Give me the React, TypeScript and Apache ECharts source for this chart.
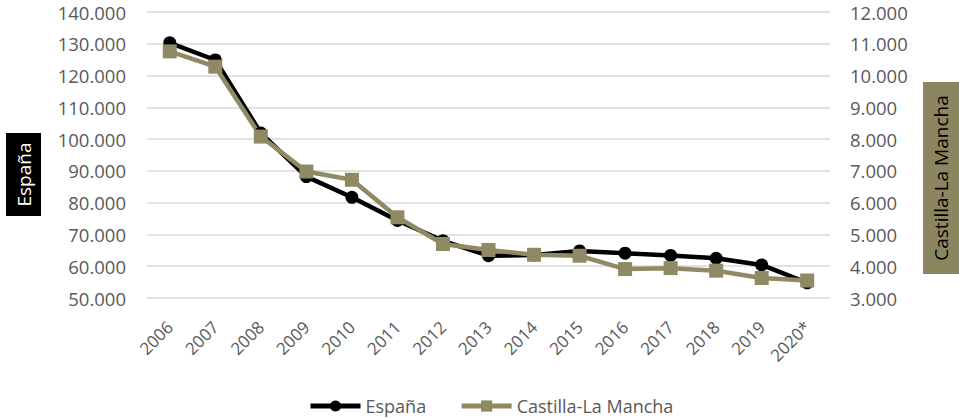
import React, { useEffect, useRef } from "react";
import * as echarts from "echarts";

const years = ["2006", "2007", "2008", "2009", "2010", "2011", "2012", "2013", "2014", "2015", "2016", "2017", "2018", "2019", "2020*"];
const espana = [130300, 124900, 101900, 88200, 81700, 74400, 68000, 63300, 63500, 64800, 64100, 63400, 62500, 60400, 54800];
const castilla = [10760, 10280, 8080, 6980, 6720, 5540, 4700, 4510, 4360, 4330, 3910, 3940, 3860, 3630, 3550];
const leftTicks = { min: 50000, max: 140000, interval: 10000 };
const rightTicks = { min: 3000, max: 12000, interval: 1000 };

const FONT = "'Open Sans', sans-serif";
const GREY = "#595959";
const OLIVE = "#8f8a63";
const OLIVE_BOX = "#8b865f";

const fmt = (v: number) => String(Math.round(v)).replace(/\B(?=(\d{3})+(?!\d))/g, ".");

export default function App() {
  const ref = useRef<HTMLDivElement>(null);
  useEffect(() => {
    document.body.style.margin = "0";
    if (!ref.current) return;
    const chart = echarts.init(ref.current, undefined, { renderer: "svg" });
    chart.setOption({
      animation: false,
      backgroundColor: "#ffffff",
      grid: { left: 147, right: 129, top: 12, bottom: 121, containLabel: false },
      legend: {
        left: 303,
        top: 392,
        itemWidth: 50,
        itemHeight: 14,
        itemGap: 33,
        lineStyle: { width: 5 },
        textStyle: { fontFamily: FONT, fontSize: 18, color: GREY },
        data: ["España", "Castilla-La Mancha"],
      },
      xAxis: {
        type: "category",
        data: years,
        boundaryGap: true,
        axisLine: { show: false },
        axisTick: { show: false },
        axisLabel: { rotate: 45, fontFamily: FONT, fontSize: 17, color: GREY, margin: 26, interval: 0 },
      },
      yAxis: [
        {
          type: "value",
          min: leftTicks.min,
          max: leftTicks.max,
          interval: leftTicks.interval,
          axisLine: { show: false },
          axisTick: { show: false },
          splitLine: { lineStyle: { color: "#d9d9d9", width: 1.5 } },
          axisLabel: { formatter: fmt, fontFamily: FONT, fontSize: 18.5, color: GREY, margin: 21 },
        },
        {
          type: "value",
          position: "right",
          min: rightTicks.min,
          max: rightTicks.max,
          interval: rightTicks.interval,
          axisLine: { show: false },
          axisTick: { show: false },
          splitLine: { show: false },
          axisLabel: { formatter: fmt, fontFamily: FONT, fontSize: 18.5, color: GREY, margin: 20 },
        },
      ],
      series: [
        {
          name: "España",
          type: "line",
          yAxisIndex: 0,
          data: espana,
          symbol: "circle",
          symbolSize: 13,
          lineStyle: { color: "#000000", width: 4.5 },
          itemStyle: { color: "#000000" },
        },
        {
          name: "Castilla-La Mancha",
          type: "line",
          yAxisIndex: 1,
          data: castilla,
          symbol: "rect",
          symbolSize: 14,
          lineStyle: { color: OLIVE, width: 4.5 },
          itemStyle: { color: OLIVE },
        },
      ],
      graphic: [
        { type: "rect", shape: { x: 6, y: 133, width: 35, height: 83 }, style: { fill: "#000000" } },
        {
          type: "text",
          x: 24,
          y: 174.5,
          rotation: Math.PI / 2,
          style: { text: "España", fill: "#ffffff", font: `19px ${FONT}`, align: "center", verticalAlign: "middle" },
        },
        { type: "rect", shape: { x: 923, y: 82, width: 40, height: 192 }, style: { fill: OLIVE_BOX } },
        {
          type: "text",
          x: 941,
          y: 178,
          rotation: Math.PI / 2,
          style: { text: "Castilla-La Mancha", fill: "#000000", font: `19px ${FONT}`, align: "center", verticalAlign: "middle" },
        },
      ],
    });
    return () => chart.dispose();
  }, []);
  return <div ref={ref} style={{ width: 959, height: 419 }} />;
}
